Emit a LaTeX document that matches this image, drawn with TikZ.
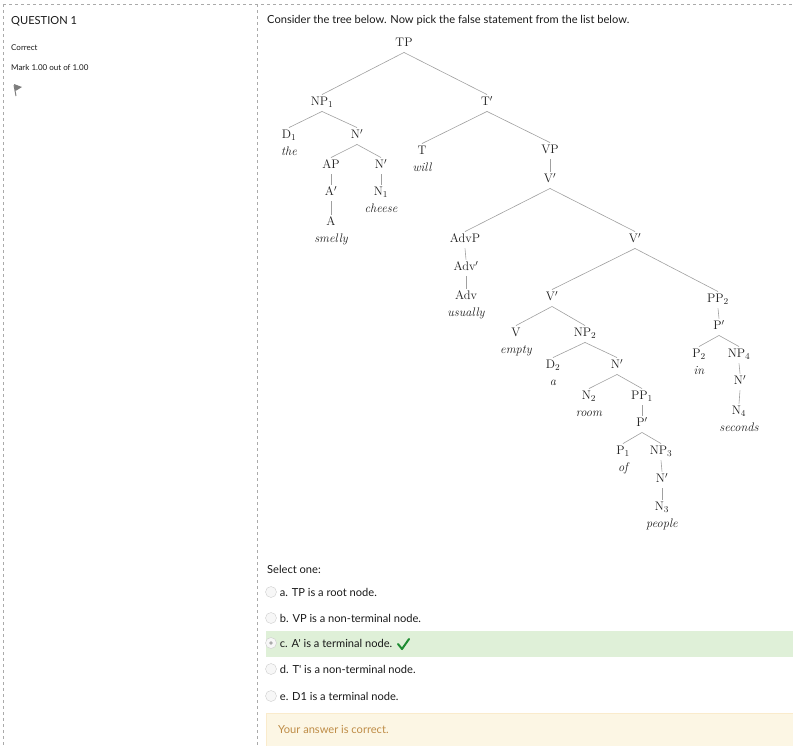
\documentclass[tikz,border=0pt]{standalone}
\usepackage{fontspec}
\newfontfamily\uifont{Lato}
\usetikzlibrary{positioning}
\definecolor{TreeLine}{RGB}{160,160,160}
\definecolor{TreeInk}{RGB}{30,30,30}
\definecolor{UiInk}{RGB}{25,25,25}
\definecolor{DashGray}{RGB}{170,170,170}
\definecolor{RightFill}{RGB}{223,240,216}
\definecolor{TickGreen}{RGB}{30,140,50}
\definecolor{FeedFill}{RGB}{252,246,228}
\definecolor{FeedLine}{RGB}{250,235,204}
\definecolor{FeedInk}{RGB}{190,140,70}
\definecolor{RadioEdge}{RGB}{205,205,205}
\definecolor{RadioFill}{RGB}{247,247,247}
\definecolor{RadioDot}{RGB}{170,170,170}
\definecolor{FlagGray}{RGB}{125,125,125}

\begin{document}
\begin{tikzpicture}[x=1pt,y=-1pt,node distance=3pt and 3pt]
  \tikzset{cat/.style={inner sep=2.5pt,text height=8.5pt,text depth=3pt,text=TreeInk,font=\fontsize{12.4}{14}\selectfont},
    word/.style={inner sep=0pt,text height=8pt,text depth=2pt,text=TreeInk,font=\fontsize{12.4}{14}\selectfont\itshape},
    branch/.style={draw=TreeLine,line width=0.6pt},
    ui/.style={inner sep=0pt,anchor=west,text=UiInk,font=\uifont\fontsize{11.1}{13}\selectfont},
    small/.style={ui,font=\uifont\fontsize{8}{10}\selectfont},
    radio/.style={circle,draw=RadioEdge,fill=RadioFill,minimum size=11pt,inner sep=0pt},
    dashline/.style={draw=DashGray,line width=0.7pt,dash pattern=on 3pt off 3pt}}
  \useasboundingbox (0,0) rectangle (793,745);

  % frame
  \draw[dashline] (3,4) -- (793,4);
  \draw[dashline] (3,4) -- (3,745);
  \draw[dashline] (257,4) -- (257,745);

  % info column
  \node[ui] (qno) at (11,21) {QUESTION 1};
  \node[small] (state) at (11,48) {Correct};
  \node[small] (grade) at (11,68) {Mark 1.00 out of 1.00};
  \draw[FlagGray,line width=1pt] (14,85) -- (16,96);
  \fill[FlagGray] (14,84) -- (22,87) -- (15.5,91) -- cycle;

  \node[ui] (qtext) at (267,20) {Consider the tree below. Now pick the false statement from the list below.};

  % tree
  \node[cat] (tp) at (404,44) {TP};
  \node[cat] (np1) at (322,103) {NP$_1$};
  \node[cat] (tbar) at (487,103) {T$'$};
  \node[cat] (d1) at (289,136) {D$_1$};
  \node[cat] (nbar1) at (357,136) {N$'$};
  \node[cat] (t) at (422,152) {T};
  \node[cat] (vp) at (550,151) {VP};
  \node[cat] (ap) at (331,166) {AP};
  \node[cat] (nbar2) at (381,166) {N$'$};
  \node[cat] (vbar1) at (550,180) {V$'$};
  \node[cat] (abar) at (331,193) {A$'$};
  \node[cat] (n1) at (381,193) {N$_1$};
  \node[cat] (a) at (331,223) {A};
  \node[cat] (advp) at (465,240) {AdvP};
  \node[cat] (vbar2) at (635,240) {V$'$};
  \node[cat] (advbar) at (466,268) {Adv$'$};
  \node[cat] (adv) at (466,297) {Adv};
  \node[cat] (vbar3) at (552,298) {V$'$};
  \node[cat] (pp2) at (718,300) {PP$_2$};
  \node[cat] (pbar2) at (719,327) {P$'$};
  \node[cat] (v) at (516,334) {V};
  \node[cat] (np2) at (585,334) {NP$_2$};
  \node[cat] (p2) at (699,355) {P$_2$};
  \node[cat] (np4) at (739,355) {NP$_4$};
  \node[cat] (d2) at (553,366) {D$_2$};
  \node[cat] (nbar3) at (617,366) {N$'$};
  \node[cat] (nbar4) at (740,382) {N$'$};
  \node[cat] (n2) at (589,397) {N$_2$};
  \node[cat] (pp1) at (642,397) {PP$_1$};
  \node[cat] (n4) at (739,412) {N$_4$};
  \node[cat] (pbar1) at (642,424) {P$'$};
  \node[cat] (p1) at (623,452) {P$_1$};
  \node[cat] (np3) at (661,452) {NP$_3$};
  \node[cat] (nbar5) at (662,480) {N$'$};
  \node[cat] (n3) at (662,508) {N$_3$};

  % words
  \node[word,below=of d1] (the) {the};
  \node[word,below=of t] (will) {will};
  \node[word,below=of n1] (cheese) {cheese};
  \node[word,below=of a] (smelly) {smelly};
  \node[word,below=of adv] (usually) {usually};
  \node[word,below=of v] (empty) {empty};
  \node[word,below=of d2] (aword) {a};
  \node[word,below=of p2] (in) {in};
  \node[word,below=of n2] (room) {room};
  \node[word,below=of n4] (seconds) {seconds};
  \node[word,below=of p1] (of) {of};
  \node[word,below=of n3] (people) {people};

  % branches
  \foreach \p/\c in {tp/np1,tp/tbar,np1/d1,np1/nbar1,nbar1/ap,nbar1/nbar2,ap/abar,abar/a,nbar2/n1,
      tbar/t,tbar/vp,vp/vbar1,vbar1/advp,vbar1/vbar2,advp/advbar,advbar/adv,vbar2/vbar3,vbar2/pp2,
      vbar3/v,vbar3/np2,np2/d2,np2/nbar3,nbar3/n2,nbar3/pp1,pp1/pbar1,pbar1/p1,pbar1/np3,np3/nbar5,
      nbar5/n3,pp2/pbar2,pbar2/p2,pbar2/np4,np4/nbar4,nbar4/n4}
    \draw[branch] (\p.south) -- (\c.north);

  % answers
  \node[ui] (select) at (267,569) {Select one:};
  \fill[RightFill] (266,631) rectangle (793,657);
  \node[radio] (ra) at (271,592) {};
  \node[radio] (rb) at (271,618) {};
  \node[radio] (rc) at (271,643) {};
  \node[circle,fill=RadioDot,inner sep=1.3pt] (rcdot) at (rc) {};
  \node[radio] (rd) at (271,669) {};
  \node[radio] (re) at (271,696) {};
  \node[ui,right=3pt of ra] (oa) {a. TP is a root node.};
  \node[ui,right=3pt of rb] (ob) {b. VP is a non-terminal node.};
  \node[ui,right=3pt of rc] (oc) {c. A' is a terminal node.};
  \node[ui,right=3pt of rd] (od) {d. T' is a non-terminal node.};
  \node[ui,right=3pt of re] (oe) {e. D1 is a terminal node.};
  \draw[TickGreen,line width=2pt,line cap=round,line join=round] (398,644) -- (402,649) -- (409,639);

  % feedback
  \filldraw[fill=FeedFill,draw=FeedLine] (266,713) rectangle (793,746);
  \node[ui,text=FeedInk] (feedback) at (278,729) {Your answer is correct.};
\end{tikzpicture}
\end{document}
